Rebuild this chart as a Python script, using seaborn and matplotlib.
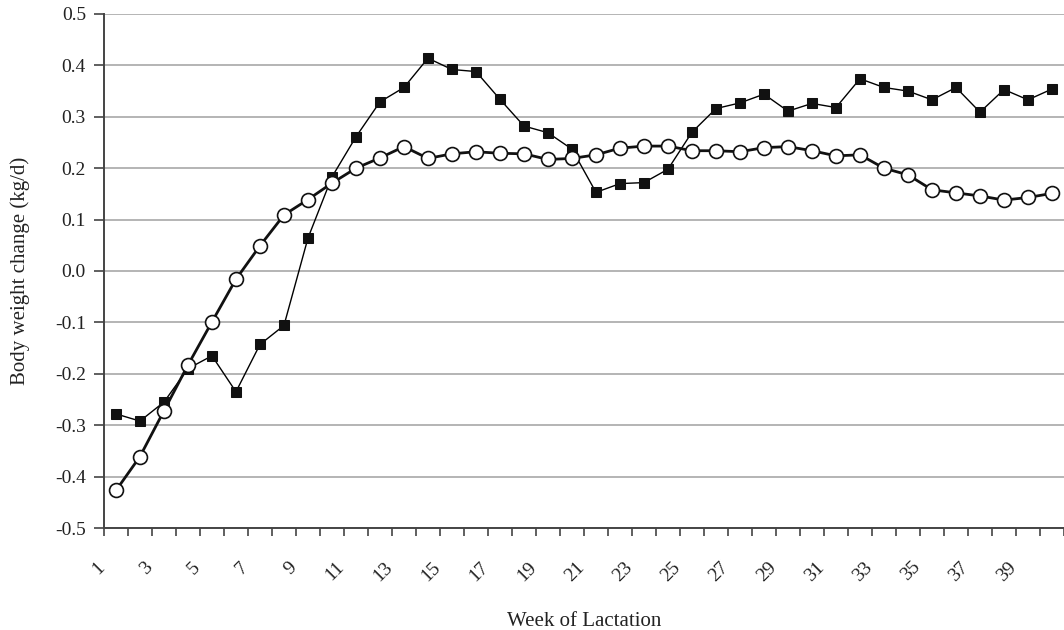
import numpy as np
import pandas as pd
import matplotlib
matplotlib.use("Agg")
import matplotlib.pyplot as plt
import matplotlib.transforms as mtransforms
import seaborn as sns

weeks = list(range(1, 41))

# serie con cuadrados negros
cuadrados = [-0.278, -0.292, -0.255, -0.19, -0.165, -0.235, -0.143, -0.106, 0.064, 0.183,
             0.261, 0.329, 0.357, 0.414, 0.392, 0.388, 0.334, 0.282, 0.269, 0.237,
             0.153, 0.170, 0.172, 0.198, 0.270, 0.316, 0.327, 0.344, 0.311, 0.326,
             0.318, 0.374, 0.357, 0.350, 0.333, 0.357, 0.309, 0.353, 0.333, 0.354]

# serie con circulos blancos
circulos = [-0.427, -0.361, -0.272, -0.183, -0.099, -0.016, 0.049, 0.109, 0.139, 0.171,
            0.200, 0.220, 0.242, 0.219, 0.228, 0.232, 0.229, 0.228, 0.217, 0.219,
            0.226, 0.239, 0.243, 0.243, 0.234, 0.234, 0.232, 0.240, 0.242, 0.234,
            0.224, 0.226, 0.200, 0.187, 0.158, 0.152, 0.146, 0.138, 0.143, 0.151]

y_ticks = [-0.5, -0.4, -0.3, -0.2, -0.1, 0.0, 0.1, 0.2, 0.3, 0.4, 0.5]
x_labels = weeks[::2]

df = pd.DataFrame({"week": weeks, "cuadrados": cuadrados, "circulos": circulos})

sns.set_style("white")
plt.rcParams["font.family"] = ["Liberation Serif", "DejaVu Serif"]
plt.rcParams["text.color"] = "#222222"
plt.rcParams["xtick.color"] = "#444444"
plt.rcParams["ytick.color"] = "#444444"
plt.rcParams["xtick.labelcolor"] = "#222222"
plt.rcParams["ytick.labelcolor"] = "#222222"
plt.rcParams["axes.labelcolor"] = "#222222"

fig = plt.figure(figsize=(10.64, 6.30), dpi=100)
ax = fig.add_axes([0.0977, 0.1619, 0.9023, 0.8159])

# Grafico de lineas
sns.lineplot(data=df, x="week", y="cuadrados", ax=ax, color="black", lw=1.0,
             marker="s", markersize=7, markerfacecolor="#111111",
             markeredgecolor="#111111", zorder=3)
sns.lineplot(data=df, x="week", y="circulos", ax=ax, color="#111111", lw=2.0,
             marker="o", markersize=10, markerfacecolor="white",
             markeredgecolor="#111111", markeredgewidth=1.2, zorder=4)

ax.set_xlim(0.5, 40.5)
ax.set_ylim(-0.5, 0.5)
ax.set_yticks(y_ticks)
ax.set_yticklabels([f"{v:.1f}".replace("-0.0", "0.0") for v in y_ticks], fontsize=14)
ax.yaxis.grid(True, color="#a8a8a8", lw=1.2)
ax.set_axisbelow(True)

ax.set_xticks(x_labels)
ax.set_xticklabels([str(w) for w in x_labels], rotation=45, ha="right", fontsize=14)
ax.set_xticks(np.arange(0.5, 41, 1), minor=True)
ax.tick_params(axis="x", which="major", bottom=True, length=0, pad=22)
ax.tick_params(axis="x", which="minor", bottom=True, length=6, width=1.2, direction="out")
ax.tick_params(axis="y", left=True, length=7, width=1.2, direction="out", pad=6)
offset = mtransforms.ScaledTranslation(-8 / 100, 0, fig.dpi_scale_trans)
for lab in ax.get_xticklabels():
    lab.set_transform(lab.get_transform() + offset)

for s in ["top", "right"]:
    ax.spines[s].set_visible(False)
for s in ["left", "bottom"]:
    ax.spines[s].set_color("#444444")
    ax.spines[s].set_linewidth(1.4)

ax.set_xlabel("Week of Lactation", fontsize=15, labelpad=20)
ax.set_ylabel("Body weight change (kg/d)", fontsize=15, labelpad=18)

plt.savefig("out.png", dpi=100)
